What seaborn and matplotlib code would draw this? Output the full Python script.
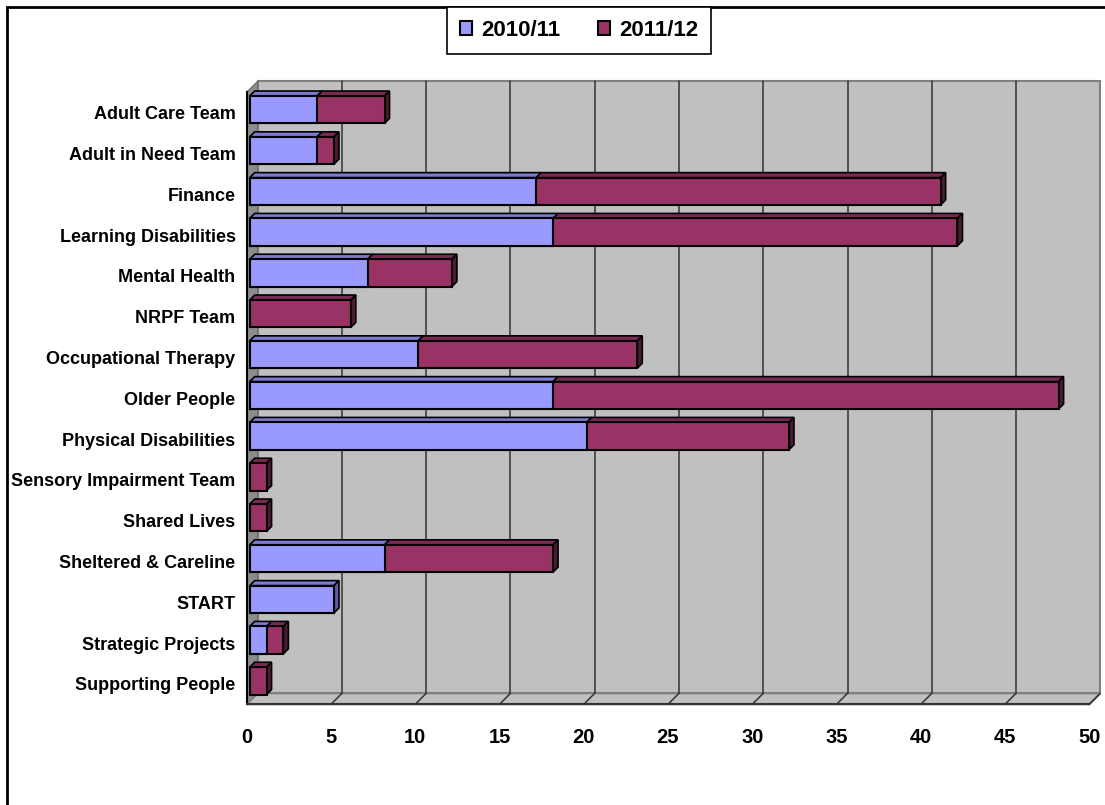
import numpy as np
import pandas as pd
import seaborn as sns
import matplotlib.pyplot as plt
from matplotlib.patches import Polygon, Rectangle

teams = ["Adult Care Team", "Adult in Need Team", "Finance", "Learning Disabilities",
         "Mental Health", "NRPF Team", "Occupational Therapy", "Older People",
         "Physical Disabilities", "Sensory Impairment Team", "Shared Lives",
         "Sheltered & Careline", "START", "Strategic Projects", "Supporting People"]
y2010 = [4, 4, 17, 18, 7, 0, 10, 18, 20, 0, 0, 8, 5, 1, 0]
y2011 = [4, 1, 24, 24, 5, 6, 13, 30, 12, 1, 1, 10, 0, 1, 1]
xticks = [0, 5, 10, 15, 20, 25, 30, 35, 40, 45, 50]

df = pd.DataFrame({"Team": teams, "2010/11": y2010, "2011/12": y2011})
df["total"] = df["2010/11"] + df["2011/12"]

BLUE, BLUE_TOP, BLUE_SIDE = "#9999FF", "#7B7BD1", "#5E5EA0"
MAR, MAR_TOP, MAR_SIDE = "#993366", "#7A2952", "#4D1A33"

sns.set_style("white")
plt.rcParams["font.family"] = ["Liberation Sans", "DejaVu Sans"]
plt.rcParams["font.weight"] = "bold"
plt.rcParams["text.color"] = "black"
plt.rcParams["xtick.labelcolor"] = "black"
plt.rcParams["ytick.labelcolor"] = "black"

W, H = 1105, 805
fig = plt.figure(figsize=(W / 100, H / 100), dpi=100)
# front plane of the 3-d plot area (pixels)
x0, x1, y0, y1 = 246.7, 1089.3, 92.3, 704.3
ax = fig.add_axes([x0 / W, 1 - y1 / H, (x1 - x0) / W, (y1 - y0) / H])
ax.patch.set_alpha(0)

n = len(teams)
xmax = xticks[-1]
pxx = (x1 - x0) / xmax
pxy = (y1 - y0) / n
ddx, ddy = 11 / pxx, 11 / pxy      # wall depth
bdx, bdy = 5 / pxx, 5 / pxy        # bar depth
ox, oy = 3 / pxx, 3 / pxy          # bar set back from front plane

# walls and floor
ax.add_patch(Rectangle((ddx, -0.5 - ddy), xmax, n, facecolor="#C0C0C0",
                       edgecolor="#808080", lw=1.5, zorder=0, clip_on=False))
ax.add_patch(Polygon([(0, -0.5), (ddx, -0.5 - ddy), (ddx, n - 0.5 - ddy), (0, n - 0.5)],
                     closed=True, facecolor="#8C8C8C", edgecolor="#707070", lw=1,
                     zorder=0.5, clip_on=False))
ax.add_patch(Polygon([(0, n - 0.5), (xmax, n - 0.5), (xmax + ddx, n - 0.5 - ddy), (ddx, n - 0.5 - ddy)],
                     closed=True, facecolor="#C0C0C0", edgecolor="#808080", lw=1.5,
                     zorder=0.5, clip_on=False))
for v in xticks[1:-1]:
    ax.plot([v + ddx, v + ddx], [-0.5 - ddy, n - 0.5 - ddy], color="#333333", lw=1.1,
            zorder=1, clip_on=False)
for v in xticks[1:]:
    ax.plot([v, v + ddx], [n - 0.5, n - 0.5 - ddy], color="#333333", lw=1.1,
            zorder=1, clip_on=False)

# bars: totals in maroon, 2010/11 on top in blue
sns.barplot(data=df, x="total", y="Team", color=MAR, saturation=1, width=0.67,
            edgecolor="black", linewidth=1.5, label="2011/12", ax=ax, zorder=4)
sns.barplot(data=df, x="2010/11", y="Team", color=BLUE, saturation=1, width=0.67,
            edgecolor="black", linewidth=1.5, label="2010/11", ax=ax, zorder=5)
if ax.get_legend() is not None:
    ax.get_legend().remove()

tot_bars, blue_bars = ax.containers[0], ax.containers[1]
for pt, pb, b, m in zip(tot_bars, blue_bars, y2010, y2011):
    for p in (pt, pb):
        p.set_x(p.get_x() + ox)
        p.set_y(p.get_y() - oy)
        p.set_clip_on(False)
    x_start, top, h = pt.get_x(), pt.get_y(), pt.get_height()
    xb = x_start + pb.get_width()
    xt = x_start + pt.get_width()
    if b > 0:
        ax.add_patch(Polygon([(x_start, top), (xb, top), (xb + bdx, top - bdy), (x_start + bdx, top - bdy)],
                             closed=True, facecolor=BLUE_TOP, edgecolor="black", lw=1.2,
                             zorder=3.5, clip_on=False))
    if m > 0:
        ax.add_patch(Polygon([(xb, top), (xt, top), (xt + bdx, top - bdy), (xb + bdx, top - bdy)],
                             closed=True, facecolor=MAR_TOP, edgecolor="black", lw=1.2,
                             zorder=3.5, clip_on=False))
    side = MAR_SIDE if m > 0 else BLUE_SIDE
    ax.add_patch(Polygon([(xt, top), (xt, top + h), (xt + bdx, top + h - bdy), (xt + bdx, top - bdy)],
                         closed=True, facecolor=side, edgecolor="black", lw=1.2,
                         zorder=3.5, clip_on=False))

ax.set_xlim(0, xmax)
ax.set_ylim(n - 0.5, -0.5)
ax.set_xticks(xticks)
ax.set_xlabel("")
ax.set_ylabel("")
ax.set_yticks(np.arange(n + 1) - 0.5, minor=True)
ax.tick_params(axis="x", length=10, width=1.2, color="#333333", pad=7, labelsize=14.5)
ax.tick_params(axis="y", which="major", length=0, pad=8, labelsize=13)
ax.tick_params(axis="y", which="minor", length=9, width=1.2, color="#555555")
for s in ("top", "right"):
    ax.spines[s].set_visible(False)
ax.spines["left"].set_color("black")
ax.spines["left"].set_linewidth(1.5)
ax.spines["bottom"].set_color("#333333")
ax.spines["bottom"].set_linewidth(1.5)
for lab in ax.get_xticklabels() + ax.get_yticklabels():
    lab.set_fontweight("bold")

handles, labels = ax.get_legend_handles_labels()
leg = fig.legend(handles[::-1], labels[::-1], loc="center", bbox_to_anchor=(579 / W, 1 - 30.5 / H),
                 ncol=2, frameon=True, fancybox=False, edgecolor="black", framealpha=1,
                 handlelength=0.55, handleheight=0.55, columnspacing=1.7, handletextpad=0.4,
                 borderpad=0.6, borderaxespad=0, prop={"size": 16, "weight": "bold"})
leg.get_frame().set_linewidth(1.2)

# outer chart border
fig.add_artist(Rectangle((7 / W, -0.1), 1.2, 1.1 - 7 / H, transform=fig.transFigure,
                         fill=False, edgecolor="black", lw=2))

fig.savefig("out.png", dpi=100)
